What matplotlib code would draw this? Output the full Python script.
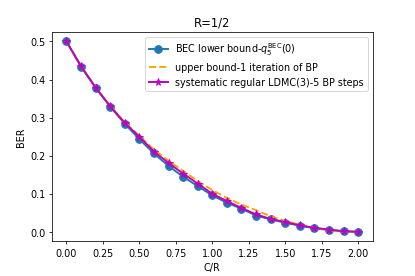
import matplotlib
matplotlib.use("Agg")
import matplotlib.pyplot as plt
import numpy as np

c_over_r = [0.0, 0.1, 0.2, 0.3, 0.4, 0.5, 0.6, 0.7, 0.8, 0.9, 1.0,
            1.1, 1.2, 1.3, 1.4, 1.5, 1.6, 1.7, 1.8, 1.9, 2.0]
bec_lower = [0.5, 0.434, 0.378, 0.329, 0.284, 0.2435, 0.206, 0.173, 0.145, 0.120, 0.096,
             0.0765, 0.061, 0.043, 0.033, 0.024, 0.0166, 0.0095, 0.005, 0.0016, 0.0]
upper_bound = [0.5, 0.436, 0.380, 0.331, 0.288, 0.252, 0.216, 0.187, 0.160, 0.134, 0.110,
               0.089, 0.072, 0.057, 0.041, 0.029, 0.019, 0.011, 0.005, 0.0015, 0.0]
ldmc = [0.5, 0.435, 0.379, 0.330, 0.286, 0.250, 0.211, 0.181, 0.153, 0.127, 0.100,
        0.081, 0.063, 0.046, 0.034, 0.026, 0.017, 0.011, 0.006, 0.002, 0.0]

fig = plt.figure(figsize=(6, 4), dpi=415/6)
fig.subplots_adjust(left=0.125, right=0.898, bottom=0.125, top=0.882)
ax = fig.add_subplot(111)
ax.plot(c_over_r, bec_lower, 'o-', color='C0', lw=2, ms=8,
        label=r'BEC lower bound-$q_5^{\mathrm{BEC}}(0)$')
ax.plot(c_over_r, upper_bound, '--', color='orange', lw=2,
        label='upper bound-1 iteration of BP')
ax.plot(c_over_r, ldmc, '*-', color='m', lw=2, ms=8,
        label='systematic regular LDMC(3)-5 BP steps')
ax.set_xlabel('C/R')
ax.set_ylabel('BER')
ax.set_title('R=1/2')
ax.legend(loc='upper right')
fig.savefig('out.png', dpi=415/6)
